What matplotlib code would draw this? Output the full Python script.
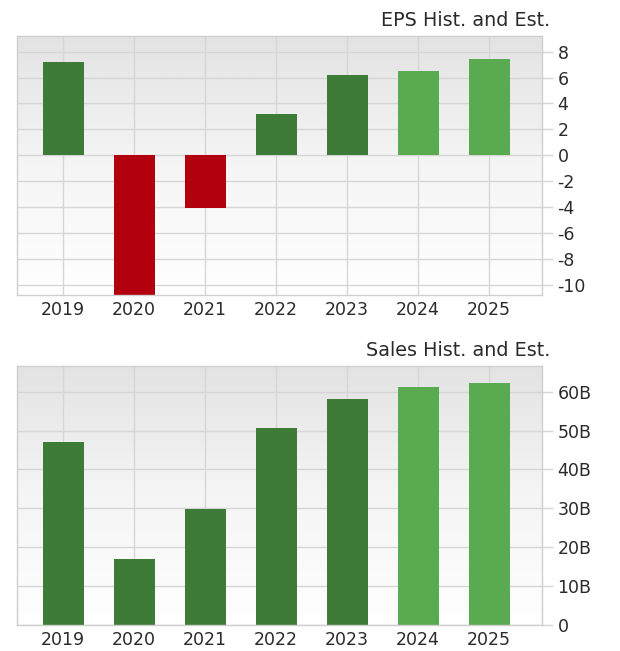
import matplotlib
matplotlib.use("Agg")
import matplotlib.pyplot as plt
import numpy as np
from matplotlib.ticker import FuncFormatter

years = ["2019", "2020", "2021", "2022", "2023", "2024", "2025"]
eps_values = [7.23, -11.2, -4.09, 3.17, 6.18, 6.51, 7.41]
sales_values = [47.0, 17.0, 29.8, 50.7, 58.2, 61.1, 62.3]  # billions
is_estimate = [False, False, False, False, False, True, True]

eps_ticks = [8, 6, 4, 2, 0, -2, -4, -6, -8, -10]
sales_ticks = [0, 10, 20, 30, 40, 50, 60]

DARK_GREEN = "#3e7b37"
LIGHT_GREEN = "#5aaa52"
RED = "#b3000e"
GRID = "#d6d6d6"
BORDER = "#cfcfcf"
TEXT = "#2a2a2a"

fig = plt.figure(figsize=(6.2, 6.51), dpi=100)
fig.patch.set_facecolor("white")

def style_axes(ax, title):
    # gradient background
    grad = np.linspace(0, 1, 256).reshape(-1, 1)
    cmap = matplotlib.colors.LinearSegmentedColormap.from_list("bg", ["#e3e3e3", "#f5f5f5", "#ffffff"])
    ax.imshow(grad, aspect="auto", cmap=cmap, extent=[0, 1, 0, 1],
              transform=ax.transAxes, zorder=0, origin="upper")
    ax.set_facecolor("white")
    for s in ax.spines.values():
        s.set_color(BORDER)
        s.set_linewidth(1.0)
    ax.yaxis.tick_right()
    ax.tick_params(axis="y", which="both", direction="out", length=8, width=1,
                   color=GRID, labelsize=12.5, labelcolor=TEXT, pad=3,
                   left=False, right=True)
    ax.tick_params(axis="x", length=0, labelsize=12.5, labelcolor=TEXT, pad=4)
    ax.grid(True, color=GRID, linewidth=1.0, zorder=1)
    ax.set_axisbelow(True)
    ax.text(1.0146, 1.022, title, transform=ax.transAxes, ha="right", va="bottom",
            fontsize=13.8, color=TEXT)

x = np.arange(len(years))

# EPS chart
ax1 = fig.add_axes([0.0268, 0.5469, 0.8479, 0.3978])
style_axes(ax1, "EPS Hist. and Est.")
eps_colors = [RED if v < 0 else (LIGHT_GREEN if est else DARK_GREEN)
              for v, est in zip(eps_values, is_estimate)]
ax1.bar(x, eps_values, width=0.58, color=eps_colors, zorder=2)
ax1.set_xlim(-0.657, 6.75)
ax1.set_ylim(-10.79, 9.21)
ax1.set_yticks(eps_ticks)
ax1.set_yticklabels([str(t) for t in eps_ticks])
ax1.set_xticks(x)
ax1.set_xticklabels(years)

# Sales chart
ax2 = fig.add_axes([0.0268, 0.0399, 0.8479, 0.3979])
style_axes(ax2, "Sales Hist. and Est.")
sales_colors = [LIGHT_GREEN if est else DARK_GREEN for est in is_estimate]
ax2.bar(x, sales_values, width=0.58, color=sales_colors, zorder=2)
ax2.set_xlim(-0.657, 6.75)
ax2.set_ylim(0, 66.6)
ax2.set_yticks(sales_ticks)
ax2.yaxis.set_major_formatter(FuncFormatter(lambda v, p: "0" if v == 0 else f"{int(v)}B"))
ax2.set_xticks(x)
ax2.set_xticklabels(years)

fig.savefig("out.png", dpi=100, facecolor="white")
